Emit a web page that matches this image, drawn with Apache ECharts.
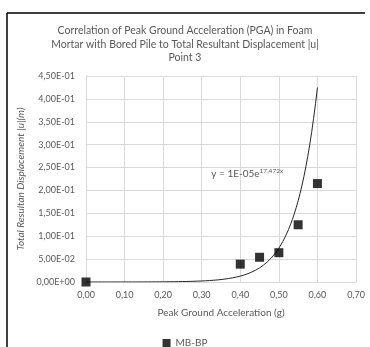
<!DOCTYPE html>
<html>
<head>
<meta charset="utf-8">
<script src="https://cdn.jsdelivr.net/npm/echarts@6/dist/echarts.min.js"></script>
<style>
html,body{margin:0;padding:0;background:#fff;}
#c{width:370px;height:347px;}
</style>
</head>
<body>
<div id="c"></div>
<script>
// Data
const pga = [0.00, 0.40, 0.45, 0.50, 0.55, 0.60];
const disp = [0.000, 0.039, 0.054, 0.064, 0.125, 0.215];
const seriesName = 'MB-BP';
const titleText = 'Correlation of Peak Ground Acceleration (PGA) in Foam\nMortar with Bored Pile to Total Resultant Displacement |u|\nPoint 3';
const xTitle = 'Peak Ground Acceleration (g)';
const yTitle = 'Total Resultan Displacement |u|(m)';
// Exponential trendline y = a * e^(b x), as labelled (a is shown rounded)
const trendA = 1.19e-5;
const trendB = 17.472;
const trendFrom = 0.0, trendTo = 0.60;

const trendPts = [];
const N = 120;
for (let i = 0; i <= N; i++) {
  const x = trendFrom + (trendTo - trendFrom) * i / N;
  trendPts.push([x, trendA * Math.exp(trendB * x)]);
}

const FONT = 'Lato, "Noto Sans", sans-serif';
const gray = '#595959';

const chart = echarts.init(document.getElementById('c'), null, {renderer: 'canvas'});
const option = {
  animation: false,
  backgroundColor: '#fff',
  title: {
    text: titleText,
    left: 'center',
    top: 19,
    textStyle: {fontFamily: FONT, fontSize: 10.5, fontWeight: 'normal', color: gray, lineHeight: 13.5, align: 'center'}
  },
  grid: {left: 86, right: 14, top: 76, bottom: 65},
  xAxis: {
    type: 'value', min: 0, max: 0.7, interval: 0.1,
    name: xTitle, nameLocation: 'middle', nameGap: 26,
    nameTextStyle: {fontFamily: FONT, fontSize: 10, color: gray},
    axisLine: {show: true, lineStyle: {color: '#d9d9d9'}},
    axisTick: {show: false},
    axisLabel: {fontFamily: FONT, fontSize: 9, color: gray, margin: 9,
      formatter: v => v.toFixed(2).replace('.', ',')},
    splitLine: {show: true, lineStyle: {color: '#d9d9d9', width: 1}}
  },
  yAxis: {
    type: 'value', min: 0, max: 0.45, interval: 0.05,
    name: yTitle, nameLocation: 'middle', nameGap: 56,
    nameTextStyle: {fontFamily: FONT, fontSize: 10, color: gray, fontStyle: 'italic'},
    axisLine: {show: true, lineStyle: {color: '#d9d9d9'}},
    axisTick: {show: false},
    axisLabel: {fontFamily: FONT, fontSize: 9, color: gray, margin: 11,
      formatter: v => {
        if (v === 0) return '0,00E+00';
        let s = v.toExponential(2);
        let [m, e] = s.split('e');
        let sign = e[0] === '-' ? '-' : '+';
        let d = e.replace(/[+-]/, '');
        if (d.length < 2) d = '0' + d;
        return m.replace('.', ',') + 'E' + sign + d;
      }},
    splitLine: {show: true, lineStyle: {color: '#d9d9d9', width: 1}}
  },
  legend: {
    data: [seriesName], top: 333, left: 'center',
    icon: 'rect', itemWidth: 8, itemHeight: 8, itemGap: 4,
    textStyle: {fontFamily: FONT, fontSize: 10, color: gray}
  },
  series: [
    {
      name: 'trend', type: 'line', data: trendPts, showSymbol: false, symbol: 'none',
      lineStyle: {color: '#262626', width: 1}, z: 2, silent: true
    },
    {
      name: seriesName, type: 'scatter', symbol: 'rect', symbolSize: 9,
      itemStyle: {color: '#000'}, data: pga.map((x, i) => [x, disp[i]]), z: 3
    }
  ]
};
chart.setOption(option);

const p = chart.convertToPixel({gridIndex: 0}, [0.325, 0.236]);
chart.setOption({
  graphic: [
    {type: 'line', shape: {x1: 7, y1: 13, x2: 7, y2: 347}, style: {stroke: '#000', lineWidth: 1.5}},
    {type: 'line', shape: {x1: 7, y1: 13, x2: 365, y2: 13}, style: {stroke: '#000', lineWidth: 1.5}},
    {type: 'text', x: p[0], y: p[1], style: {
      text: '{a|y = 1E-05e}{b|17,472x}',
      verticalAlign: 'middle',
      rich: {
        a: {fontFamily: FONT, fontSize: 10, fill: gray, color: gray},
        b: {fontFamily: FONT, fontSize: 6.5, fill: gray, color: gray, verticalAlign: 'top', padding: [0, 0, 6, 0]}
      }
    }}
  ]
});
</script>
</body>
</html>
